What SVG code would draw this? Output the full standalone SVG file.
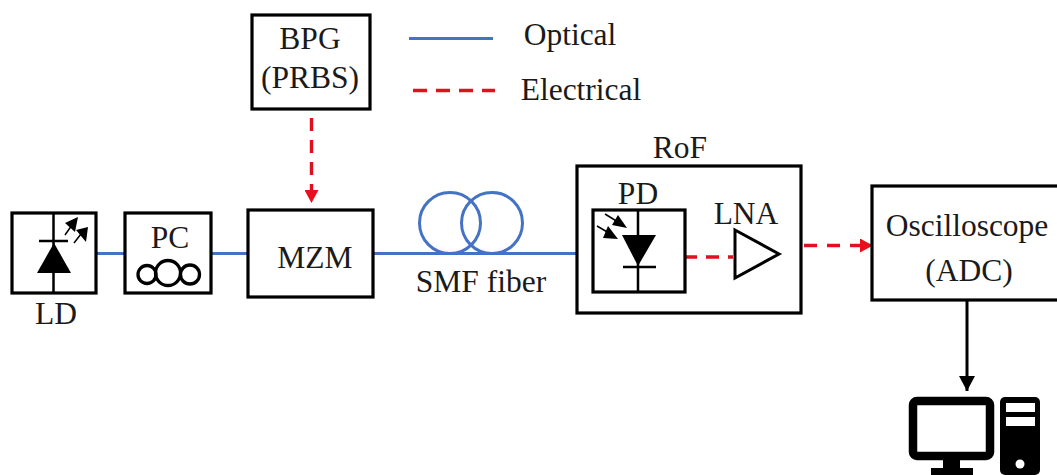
<svg xmlns="http://www.w3.org/2000/svg" width="1057" height="475" viewBox="0 0 1057 475">
<style>
text{font-family:"Liberation Serif","Times New Roman",serif;font-size:31.500px;fill:#1a1a1a;text-anchor:middle}
.box{fill:#fff;stroke:#000;stroke-width:3.200}
.thin{stroke:#000;stroke-width:2.500;fill:none}
.coil{stroke:#000;stroke-width:3.300;fill:none}
.opt{stroke:#4472c4;stroke-width:3;fill:none}
.el{stroke:#e0101e;stroke-width:3.400;fill:none;stroke-dasharray:13 9}
.blk{fill:#000;stroke:none}
.tail{stroke:#000;stroke-width:1.500;fill:none}
</style>
<defs>
<marker id="ar" markerUnits="userSpaceOnUse" markerWidth="14" markerHeight="14" refX="13" refY="7" orient="auto"><path d="M0 0L13 7L0 14z" fill="#e8101e"/></marker>
<marker id="ak" markerUnits="userSpaceOnUse" markerWidth="16" markerHeight="16" refX="15" refY="8" orient="auto"><path d="M0 0L15 8L0 16z" fill="#000"/></marker>
</defs>
<g id="connectors">
<path class="opt" d="M96 253.500H125M211 253.500H248M373 253.500H577"/>
<circle class="opt" cx="450" cy="223" r="30.500"/>
<circle class="opt" cx="492" cy="223" r="30.500"/>
<path class="opt" d="M409 38.500H493"/>
<path class="el" style="stroke-dasharray:14 9" d="M413 90.500H495"/>
<path class="el" marker-end="url(#ar)" d="M311.500 118V203"/>
<path class="el" d="M684 257H733"/>
<path class="el" style="stroke-dasharray:13 10" marker-end="url(#ar)" d="M804 245.500H873"/>
<path stroke="#000" stroke-width="3" fill="none" marker-end="url(#ak)" d="M967 301V391"/>
</g>
<g id="BPG"><rect class="box" x="252" y="15" width="118" height="94"/><text x="310" y="49">BPG</text><text x="310" y="88">(PRBS)</text></g>
<g id="legend-optical"><text x="570" y="45">Optical</text></g>
<g id="legend-electrical"><text x="581" y="100">Electrical</text></g>
<g id="LD"><rect class="box" x="12" y="213" width="84" height="80"/>
<path class="thin" d="M53.500 213V293M39 241H68"/>
<path class="blk" d="M37 273L54 243L71 273z"/>
<path class="tail" d="M65 235L72 225M74 243L81 234"/>
<path class="blk" d="M65 223L78 217L75 232z"/>
<path class="blk" d="M76 230L88 227L86 242z"/>
<text x="56" y="324">LD</text></g>
<g id="PC"><rect class="box" x="125" y="213" width="86" height="80"/>
<text x="170" y="248">PC</text>
<circle class="coil" cx="147" cy="274.500" r="9"/><circle class="coil" cx="168" cy="273" r="12.500"/><circle class="coil" cx="190" cy="274.500" r="9.500"/></g>
<g id="MZM"><rect class="box" x="248" y="210" width="125" height="87"/><text x="315" y="268">MZM</text></g>
<g id="SMF"><text x="481" y="292">SMF fiber</text></g>
<g id="RoF"><text x="680" y="158">RoF</text><rect class="box" x="577" y="166" width="224" height="147" style="fill:none"/></g>
<g id="PD"><rect class="box" x="593" y="210" width="92" height="82"/>
<text x="638" y="204">PD</text>
<path class="thin" d="M638 210V292M623 267H656"/>
<path class="blk" d="M622 235H656L638 266z"/>
<path class="tail" d="M605 214L618 222M597 226L609 233"/>
<path class="blk" d="M618 215L627 228L612 225z"/>
<path class="blk" d="M608 226L618 239L603 238z"/></g>
<g id="LNA"><text x="746" y="224">LNA</text><path d="M735 230L779 254L735 278z" fill="#fff" stroke="#000" stroke-width="3"/></g>
<g id="Oscilloscope"><rect class="box" x="872" y="186" width="190" height="114"/><text x="967" y="236">Oscilloscope</text><text x="969" y="281">(ADC)</text></g>
<g id="Computer">
<rect x="913" y="401" width="77" height="55" rx="4" fill="#fff" stroke="#000" stroke-width="8.500"/>
<rect class="blk" x="943" y="458" width="17" height="12"/><rect class="blk" x="931" y="468" width="42" height="7"/>
<rect class="blk" x="1000" y="397" width="40" height="78" rx="5"/>
<rect x="1006" y="403" width="29" height="9" fill="#fff"/><rect x="1006" y="417" width="29" height="9" fill="#fff"/><circle cx="1020" cy="464" r="4.500" fill="#fff"/>
</g>
</svg>
